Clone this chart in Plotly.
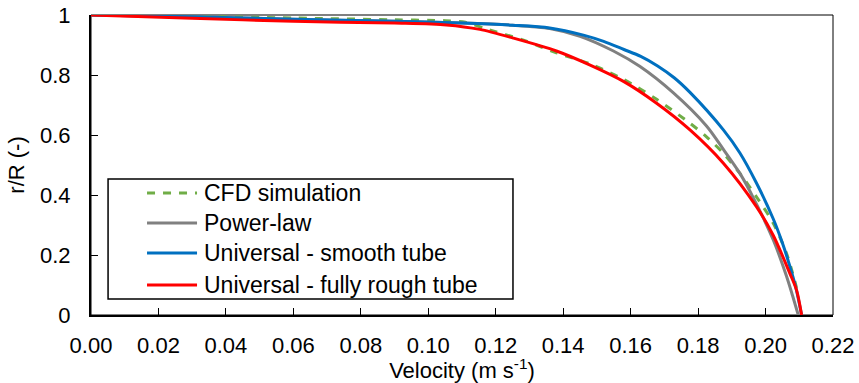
import plotly.graph_objects as go

# ---- data ----
cfd_v = [0.000, 0.030, 0.060, 0.090, 0.105, 0.111, 0.1173, 0.128, 0.138, 0.148, 0.158, 0.1677,
         0.1776, 0.1825, 0.1875, 0.1924, 0.1973, 0.2023, 0.2062, 0.2080, 0.2092]
cfd_r = [1.000, 0.996, 0.990, 0.984, 0.981, 0.976, 0.953, 0.917, 0.874, 0.837, 0.785, 0.719,
         0.639, 0.594, 0.539, 0.472, 0.394, 0.306, 0.206, 0.140, 0.090]

power_v = [0.000, 0.030, 0.060, 0.090, 0.110, 0.125, 0.136, 0.145, 0.1549, 0.1628, 0.1726,
           0.1825, 0.1875, 0.1924, 0.1965, 0.2023, 0.2062, 0.2080, 0.2097]
power_r = [1.000, 0.994, 0.986, 0.979, 0.973, 0.966, 0.955, 0.929, 0.880, 0.828, 0.741,
           0.630, 0.552, 0.472, 0.388, 0.250, 0.130, 0.065, 0.000]

smooth_v = [0.000, 0.030, 0.060, 0.090, 0.110, 0.125, 0.136, 0.146, 0.152, 0.158, 0.163, 0.168,
            0.173, 0.1776, 0.1875, 0.1924, 0.1973, 0.2023, 0.2050, 0.2070, 0.2090, 0.2107]
smooth_r = [1.000, 0.994, 0.986, 0.979, 0.973, 0.966, 0.957, 0.933, 0.912, 0.885, 0.862, 0.830,
            0.790, 0.742, 0.617, 0.540, 0.440, 0.320, 0.240, 0.170, 0.090, 0.000]

rough_v = [0.000, 0.030, 0.060, 0.090, 0.1054, 0.1153, 0.1252, 0.138, 0.148, 0.158, 0.1677,
           0.1776, 0.1875, 0.1973, 0.2023, 0.2072, 0.2092, 0.2107]
rough_r = [1.000, 0.989, 0.979, 0.973, 0.967, 0.952, 0.923, 0.880, 0.833, 0.778, 0.706,
           0.617, 0.506, 0.361, 0.265, 0.139, 0.083, 0.000]

series_names = ["CFD simulation", "Power-law", "Universal - smooth tube", "Universal - fully rough tube"]
series_colors = ["#70AD47", "#808080", "#0070C0", "#FF0000"]
series_dash = ["8px,8px", "solid", "solid", "solid"]
series_data = [(cfd_v, cfd_r), (power_v, power_r), (smooth_v, smooth_r), (rough_v, rough_r)]

x_ticks = [0.00, 0.02, 0.04, 0.06, 0.08, 0.10, 0.12, 0.14, 0.16, 0.18, 0.20, 0.22]
y_ticks = [0, 0.2, 0.4, 0.6, 0.8, 1]

FONT = "Liberation Sans, Arial, sans-serif"

fig = go.Figure()
for name, col, dash, (v, r) in zip(series_names, series_colors, series_dash, series_data):
    fig.add_trace(go.Scatter(x=v, y=r, mode="lines", name=name,
                             line=dict(color=col, width=3, dash=dash, shape="spline", smoothing=0.8),
                             showlegend=False))

# custom legend (box, line samples, labels) in paper coordinates
lx0, lx1, ly0, ly1 = 0.023, 0.5687, 0.053, 0.453
fig.add_shape(type="rect", xref="paper", yref="paper", x0=lx0, x1=lx1, y0=ly0, y1=ly1,
              line=dict(color="black", width=1.5), fillcolor="white", layer="above")
row_y = [0.4067, 0.3067, 0.2067, 0.100]
for name, col, dash, yy in zip(series_names, series_colors, series_dash, row_y):
    fig.add_shape(type="line", xref="paper", yref="paper", x0=0.0755, x1=0.1429, y0=yy, y1=yy,
                  line=dict(color=col, width=3, dash=dash), layer="above")
    fig.add_annotation(xref="paper", yref="paper", x=0.1496, y=yy, text=name, showarrow=False,
                       xanchor="left", yanchor="middle", font=dict(size=23, color="black", family=FONT))

# thin frame (top/right)
fig.add_shape(type="rect", xref="paper", yref="paper", x0=0, x1=1, y0=0, y1=1,
              line=dict(color="black", width=1), layer="below")

fig.update_layout(
    width=859, height=383,
    margin=dict(l=91, r=26, t=15, b=68),
    paper_bgcolor="white", plot_bgcolor="white",
    font=dict(family=FONT, size=22, color="black"),
    xaxis=dict(range=[0, 0.22], tickvals=x_ticks, tickformat=".2f", automargin=False,
               ticks="inside", ticklen=7, tickwidth=1, tickcolor="black",
               showline=True, linecolor="black", linewidth=2, showgrid=False, zeroline=False,
               title=dict(text="Velocity (m s<sup>-1</sup>)", standoff=0, font=dict(size=22)),
               tickfont=dict(size=22), ticklabelstandoff=10),
    yaxis=dict(range=[0, 1], tickvals=y_ticks, automargin=False,
               ticks="inside", ticklen=7, tickwidth=1, tickcolor="black",
               showline=True, linecolor="black", linewidth=2, showgrid=False, zeroline=False,
               title=dict(text="r/R (-)", standoff=9, font=dict(size=22)),
               tickfont=dict(size=22), ticklabelstandoff=14),
)

fig.write_html("out.html")
